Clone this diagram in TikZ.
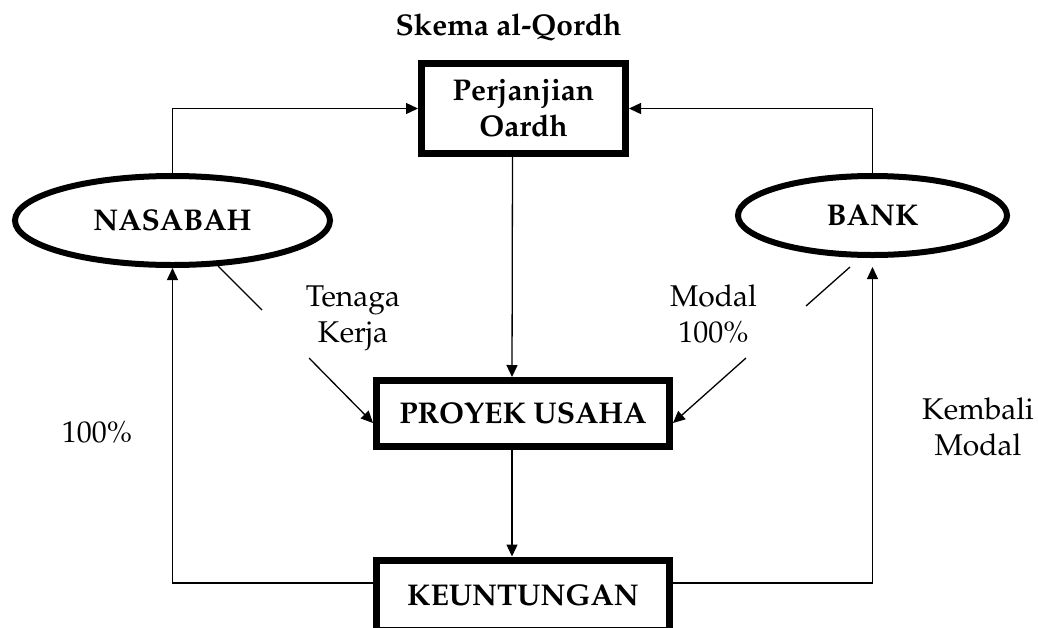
\documentclass[tikz,border=0pt]{standalone}
\usepackage[T1]{fontenc}
\usepackage{mathpazo}
\usetikzlibrary{shapes.geometric,arrows.meta}
\begin{document}
\begin{tikzpicture}[x=1pt,y=-1pt,
  every node/.style={font=\fontsize{30}{36}\selectfont, inner sep=0pt},
  boxnode/.style={draw, rectangle, line width=7pt, font=\fontsize{30}{36}\selectfont\bfseries, align=center},
  ellnode/.style={draw, ellipse, line width=6pt, font=\fontsize{30}{36}\selectfont\bfseries},
  conn/.style={line width=1.3pt},
  arr/.style={conn, -{Triangle[length=12pt,width=11pt]}},
  lbl/.style={align=center}]
\useasboundingbox (0,0) rectangle (1038,627);
% title
\node[font=\fontsize{30}{36}\selectfont\bfseries, anchor=base] (title) at (508.5,35) {Skema al-Qordh};
% nodes
\node[boxnode, minimum width=204pt, minimum height=90pt] (perj) at (523.5,108.5) {Perjanjian\\Oardh};
\node[boxnode, minimum width=293pt, minimum height=66pt] (proj) at (523,413.5) {PROYEK USAHA};
\node[boxnode, minimum width=293pt, minimum height=70pt] (keun) at (523,595) {KEUNTUNGAN};
\node[ellnode, minimum width=315pt, minimum height=89pt] (nas) at (172.5,220.5) {NASABAH};
\node[ellnode, minimum width=269pt, minimum height=79pt] (bank) at (872.5,215.5) {BANK};
% connectors
\draw[arr] (nas.north) |- (perj.west);
\draw[arr] (bank.north) |- (perj.east);
\draw[arr] ([xshift=-11pt]perj.south) -- ([xshift=-11pt]proj.north);
\draw[arr] ([xshift=-11pt]proj.south) -- ([xshift=-11pt]keun.north);
\draw[arr] ([yshift=12pt]keun.west) -| (nas.south);
\draw[arr] ([yshift=12pt]keun.east) -| ([yshift=-9pt]bank.south);
\coordinate (n1) at (262,310);
\coordinate (n2) at (309,358);
\draw[conn] (nas) -- (n1);
\draw[arr] (n2) -- ([yshift=-9.5pt]proj.west);
\coordinate (b0) at (850,267);
\coordinate (b1) at (806,306);
\coordinate (b2) at (746,358);
\draw[conn] (b0) -- (b1);
\draw[arr] (b2) -- ([yshift=-9.5pt]proj.east);
% labels
\node[lbl] (tk) at (353,318) {Tenaga\\Kerja};
\node[lbl] (m100) at (713.5,314) {Modal\\100\%};
\node (p100) at (97,432) {100\%};
\node[lbl] (km) at (978,426.5) {Kembali\\Modal};
\end{tikzpicture}
\end{document}
